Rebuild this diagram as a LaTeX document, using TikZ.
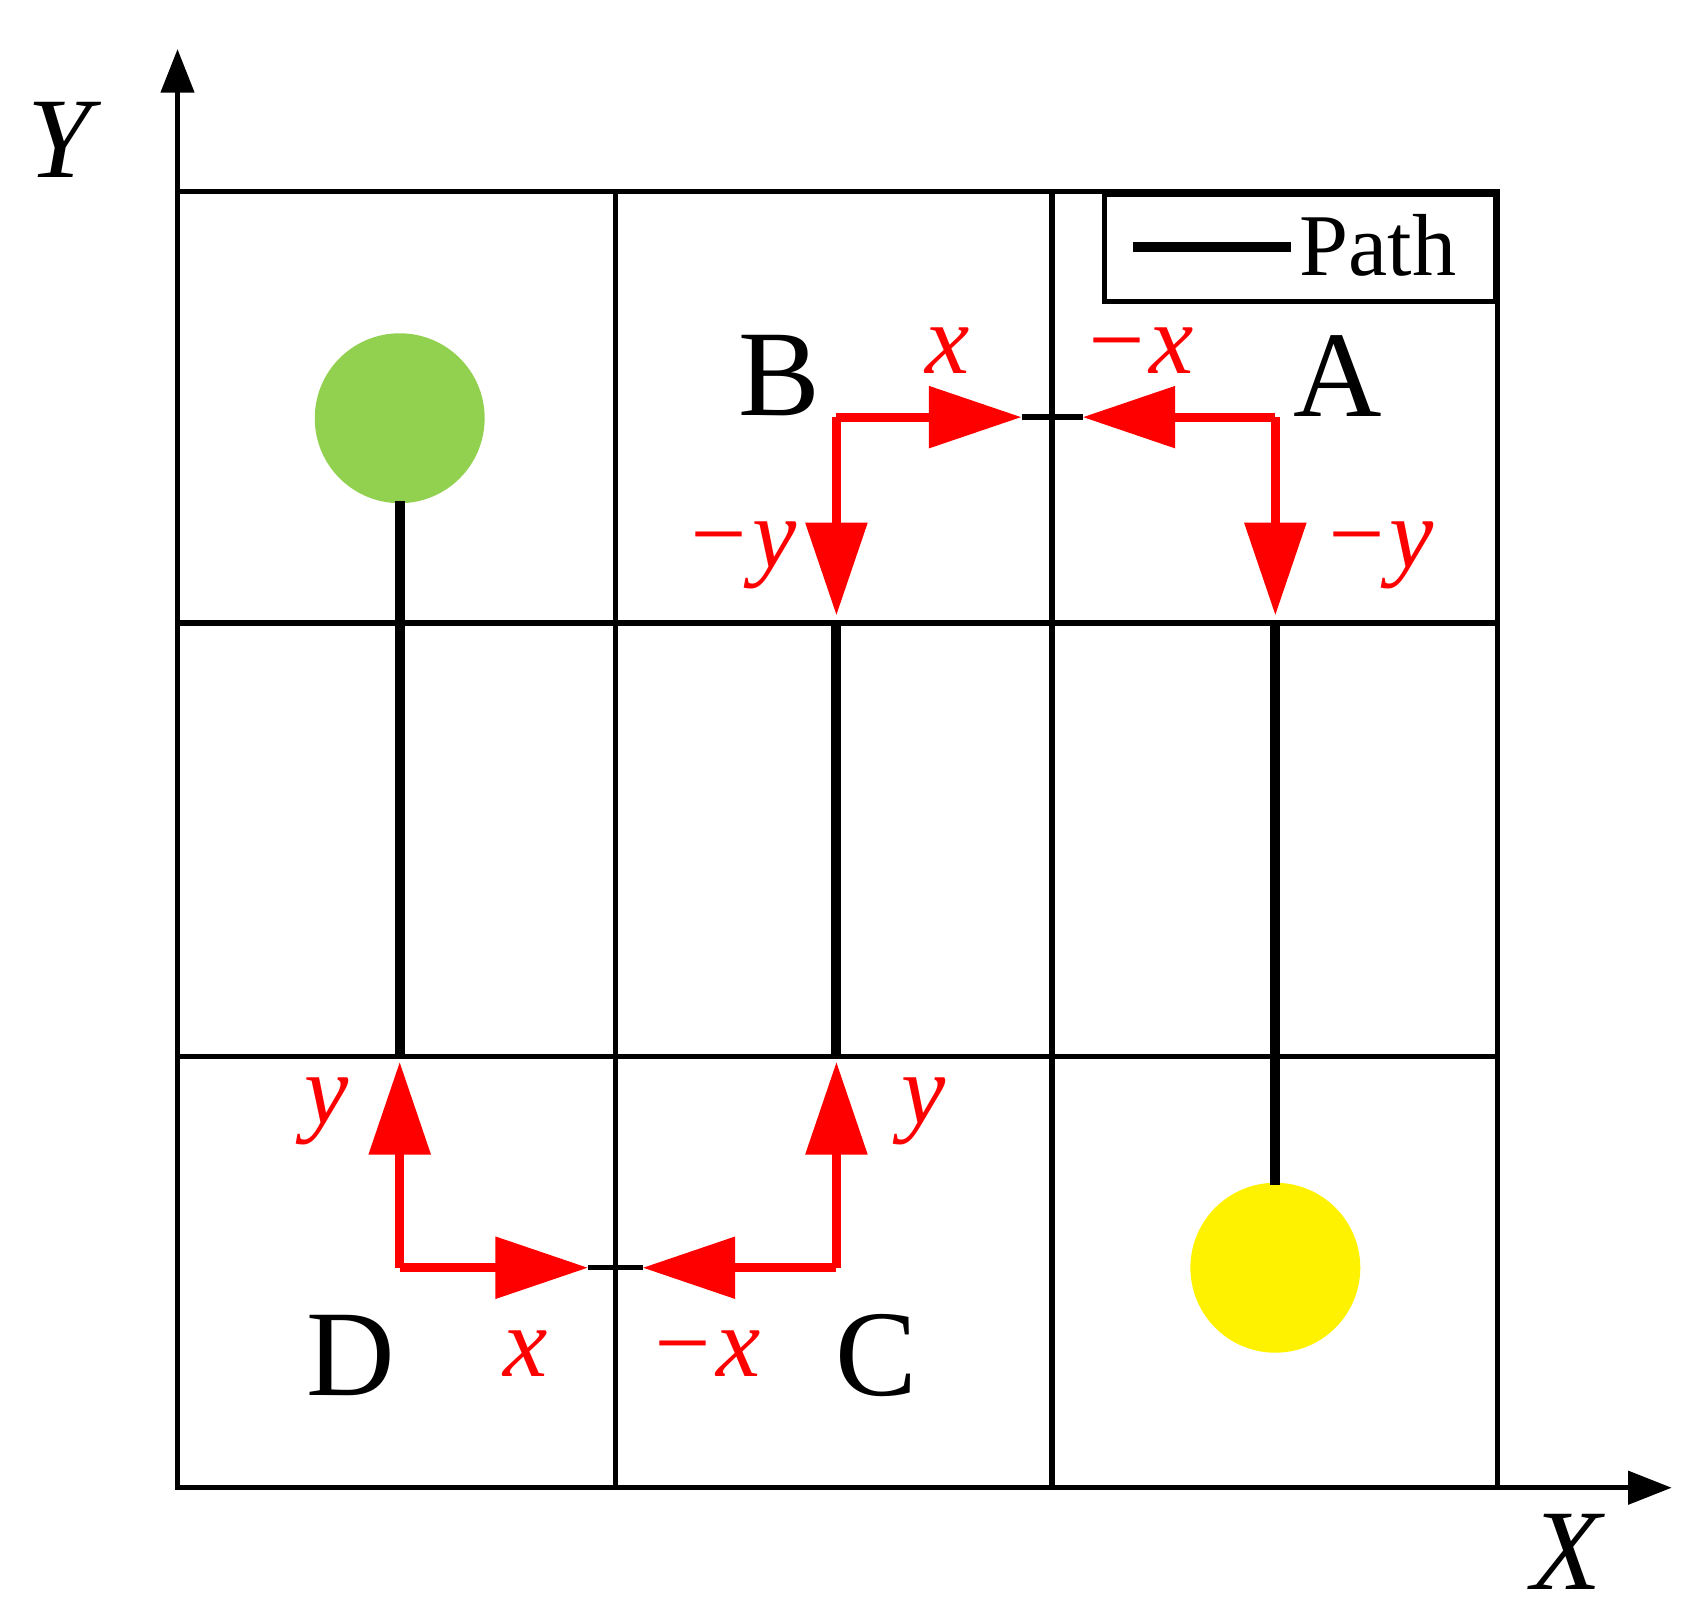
\documentclass[tikz,border=0pt]{standalone}
\usepackage{fontspec}
\setmainfont{Liberation Serif}
\usetikzlibrary{arrows.meta,positioning}
\definecolor{startgreen}{RGB}{146,208,80}

\begin{document}
\begin{tikzpicture}[x=0.01cm,y=-0.01cm,
    grid/.style={line width=1.4pt},
    route/.style={line width=2.6pt},
    move/.style={red,line width=2.4pt,-{Triangle[length=0.85cm,width=0.55cm]}},
    letter/.style={font=\fontsize{32}{32}\selectfont},
    dir/.style={red,font=\fontsize{26}{26}\selectfont\itshape}]
    \useasboundingbox (0,0) rectangle (1560,1487);

    % axes
    \draw[grid,-{Triangle[length=0.4cm,width=0.3cm]}] (163,1366) -- (1535,1366);
    \draw[grid,-{Triangle[length=0.4cm,width=0.3cm]}] (163,1366) -- (163,45);
    \node[font=\fontsize{30}{30}\selectfont\itshape] (ylab) at (55,128) {Y};
    \node[font=\fontsize{30}{30}\selectfont\itshape] (xlab) at (1438,1425) {X};

    % grid cells
    \draw[grid] (163,176) rectangle (1375,1366);
    \foreach \gx in {565,966} \draw[grid] (\gx,176) -- (\gx,1366);
    \foreach \gy in {572,970} \draw[grid] (163,\gy) -- (1375,\gy);

    % legend
    \draw[grid,fill=white] (1014,178) rectangle (1373,277);
    \draw[route] (1040,227) -- (1185,227);
    \node[font=\fontsize{23}{23}\selectfont] (leg) at (1265,225) {Path};

    % start and goal
    \fill[startgreen] (367,384) circle (78);
    \fill[yellow] (1171,1164) circle (78);

    % corner points
    \coordinate (pA) at (1171,383);
    \coordinate (pB) at (768,383);
    \coordinate (pC) at (768,1164);
    \coordinate (pD) at (367,1164);
    \coordinate (tBA) at (938,383);
    \coordinate (tAB) at (994,383);
    \coordinate (tB) at (768,565);
    \coordinate (tA) at (1171,565);
    \coordinate (tDC) at (540,1164);
    \coordinate (tCD) at (590,1164);
    \coordinate (tD) at (367,975);
    \coordinate (tC) at (768,975);

    % black path
    \draw[route] (367,460) -- (367,970);
    \draw[route] (768,572) -- (768,970);
    \draw[route] (1171,572) -- (1171,1088);
    \draw[grid] (tBA) -- (tAB);
    \draw[grid] (tDC) -- (tCD);

    % red moves
    \draw[move] (pB) -- (tBA);
    \draw[move] (pA) -- (tAB);
    \draw[move] (pB) -- (tB);
    \draw[move] (pA) -- (tA);
    \draw[move] (pD) -- (tDC);
    \draw[move] (pC) -- (tCD);
    \draw[move] (pD) -- (tD);
    \draw[move] (pC) -- (tC);

    % labels
    \node[letter] (lA) at (1228,345) {A};
    \node[letter] (lB) at (716,345) {B};
    \node[letter] (lC) at (805,1245) {C};
    \node[letter] (lD) at (322,1245) {D};
    \node[dir] (d1) at (870,322) {x};
    \node[dir] (d2) at (1045,322) {−x};
    \node[dir] (d3) at (680,510) {−y};
    \node[dir] (d4) at (1265,510) {−y};
    \node[dir] (d5) at (300,1020) {y};
    \node[dir] (d6) at (848,1020) {y};
    \node[dir] (d7) at (483,1243) {x};
    \node[dir] (d8) at (647,1243) {−x};
\end{tikzpicture}
\end{document}
